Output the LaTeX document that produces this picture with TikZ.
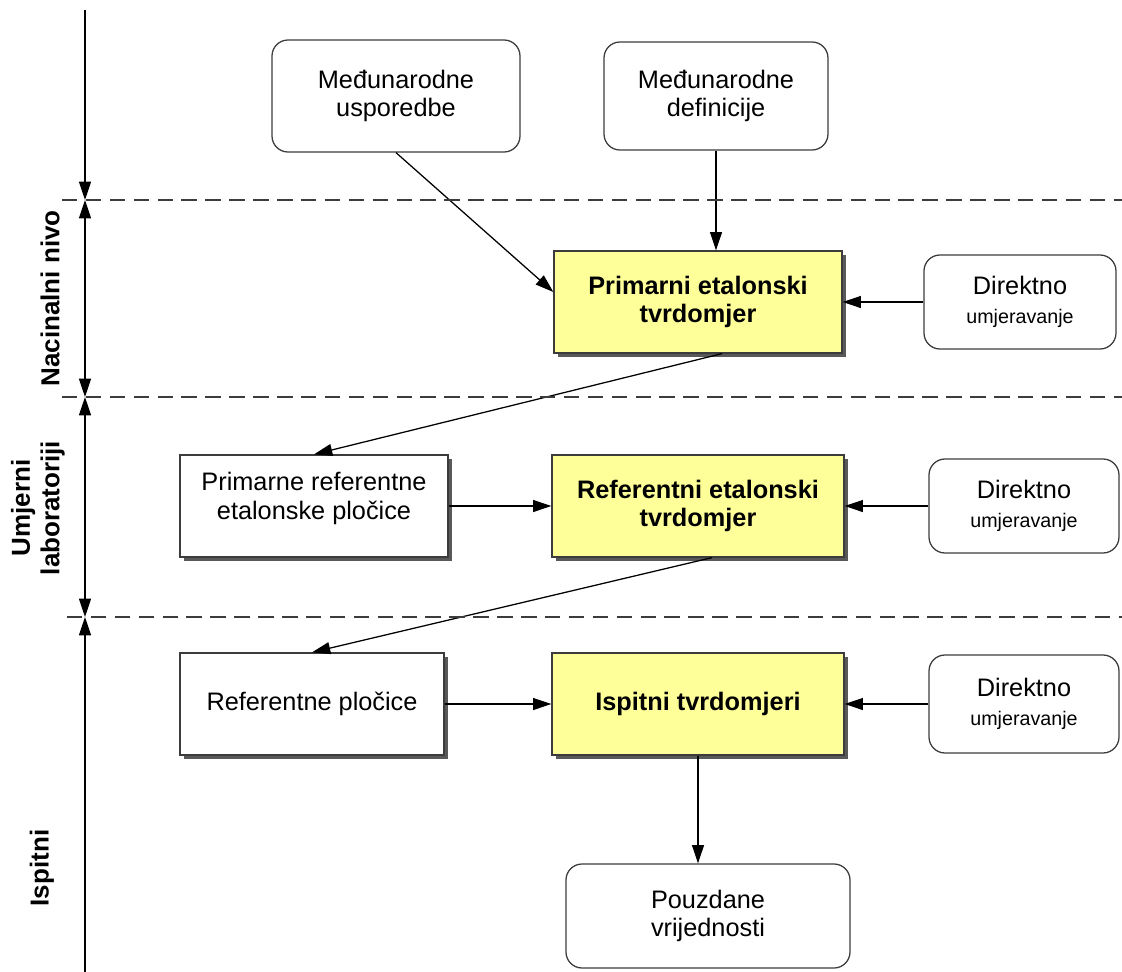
\documentclass[tikz,border=0pt]{standalone}
\usepackage{fontspec}
\setmainfont{Liberation Sans}
\usepackage{tikz}
\usetikzlibrary{calc,positioning,arrows.meta,shadows}

\definecolor{boxyellow}{RGB}{255,255,153}
\definecolor{lineg}{RGB}{60,60,60}

\tikzset{
  base/.style={draw=lineg, line width=0.9pt, align=center, inner sep=2pt,
    font=\fontsize{18}{20.5}\selectfont},
  ybox/.style={base, rectangle, fill=boxyellow, minimum width=7.3cm, minimum height=2.55cm,
    font=\fontsize{18}{20.5}\selectfont\bfseries,
    drop shadow={shadow xshift=0.1cm, shadow yshift=-0.1cm, fill=black!65, opacity=1}},
  wbox/.style={base, rectangle, fill=white, minimum width=6.6cm, minimum height=2.55cm,
    drop shadow={shadow xshift=0.1cm, shadow yshift=-0.1cm, fill=black!65, opacity=1}},
  rbox/.style={base, rectangle, rounded corners=0.4cm, fill=white},
  dbox/.style={rbox, minimum width=4.8cm, minimum height=2.35cm},
  lvl/.style={lineg, line width=0.9pt, dash pattern=on 11pt off 6pt},
  ax/.style={line width=0.9pt},
  lbl/.style={font=\fontsize{18.5}{21}\selectfont\bfseries, align=center},
}

\newcommand{\direkt}{Direktno\\{\fontsize{14}{18}\selectfont umjeravanje}}
\newcommand{\lift}{\rule[-0.5cm]{0pt}{0pt}}

\begin{document}
\begin{tikzpicture}[node distance=1cm,auto,>={Triangle[length=13pt,width=8.5pt]}]
  \useasboundingbox (0,0) rectangle (28.05,-24.3);

  \node[ybox, minimum width=7.2cm] (prim) at (17.45,-7.55) {Primarni etalonski\\tvrdomjer};
  \node[ybox, below of=prim, node distance=5.1cm] (ref) {Referentni etalonski\\tvrdomjer};
  \node[ybox, below of=ref, node distance=4.95cm] (isp) {Ispitni tvrdomjeri};
  \node[rbox, minimum width=7.1cm, minimum height=2.6cm, below of=isp, node distance=5.3cm, xshift=0.25cm] (pouz) {Pouzdane\\vrijednosti};

  \node[rbox, minimum width=5.6cm, minimum height=2.7cm, above of=prim, node distance=5.15cm, xshift=0.45cm] (def) {Međunarodne\\definicije};
  \node[rbox, minimum width=6.2cm, minimum height=2.8cm, left of=def, node distance=8cm] (usp) {Međunarodne\\usporedbe};

  \node[dbox, right of=prim, node distance=8.05cm] (dir1) {\direkt};
  \node[dbox, right of=ref, node distance=8.15cm, minimum width=4.75cm] (dir2) {\direkt};
  \node[dbox, right of=isp, node distance=8.15cm, minimum width=4.75cm, minimum height=2.45cm] (dir3) {\direkt};

  \node[wbox, minimum width=6.7cm, left of=ref, node distance=9.6cm] (pref) {Primarne referentne\\etalonske pločice\lift};
  \node[wbox, left of=isp, node distance=9.65cm] (rpl) {Referentne pločice};

  %%%% connectors

  \draw[->, ax] (usp.south) -- ([yshift=0.25cm]prim.west);
  \draw[->, ax] (def) -- (def |- prim.north);
  \draw[->, ax] (dir1) -- (prim);
  \draw[->, ax] ([xshift=0.6cm]prim.south) -- (pref.north);

  \draw[->, ax] (pref) -- (ref);
  \draw[->, ax] (dir2) -- (ref);
  \draw[->, ax] ([xshift=0.35cm]ref.south) -- (rpl.north);

  \draw[->, ax] (rpl) -- (isp);
  \draw[->, ax] (dir3) -- (isp);
  \draw[->, ax] (isp.south) -- (isp.south |- pouz.north);

  %%%% levels

  \coordinate (ax0) at (2.125,-0.25);
  \coordinate (ax1) at (2.125,-5.0);
  \coordinate (ax2) at (2.125,-9.925);
  \coordinate (ax3) at (2.125,-15.425);
  \coordinate (ax4) at (2.125,-24.3);

  \draw[lvl] ($(ax1)+(-0.575,0)$) -- (28.05,-5.0);
  \draw[lvl] ($(ax2)+(-0.575,0)$) -- (28.05,-9.925);
  \draw[lvl] ($(ax3)+(-0.45,0)$) -- (28.05,-15.425);

  \draw[->, ax] (ax0) -- (ax1);
  \draw[<->, ax] (ax1) -- (ax2);
  \draw[<->, ax] (ax2) -- (ax3);
  \draw[<-, ax] (ax3) -- (ax4);

  \node[lbl, rotate=90] (nat) at (1.25,-7.46) {Nacinalni nivo};
  \node[lbl, rotate=90] (lab) at (0.95,-12.7) {Umjerni\\laboratoriji};
  \node[lbl, rotate=90] (ispt) at (1.05,-21.7) {Ispitni};

\end{tikzpicture}
\end{document}
